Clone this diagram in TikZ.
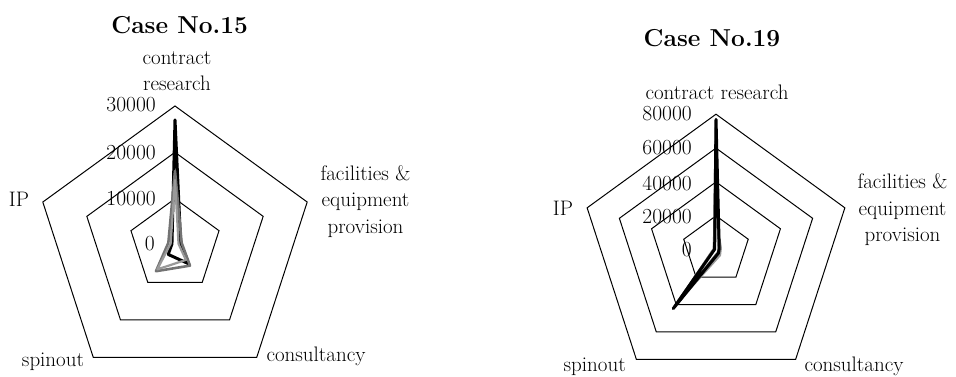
\documentclass[tikz,border=0pt]{standalone}
\begin{document}
\begin{tikzpicture}[x=1pt,y=1pt,
  ring/.style={draw=black, line width=1pt, line join=miter},
  serA/.style={draw=black, line width=3pt, line join=round},
  serB/.style={draw=black!55, line width=2.6pt, line join=round},
  serC/.style={draw=black!40, line width=2.2pt, line join=round},
  lab/.style={font=\fontsize{21}{26.5}\selectfont, inner sep=0pt, anchor=base, align=center},
  num/.style={font=\fontsize{21.5}{24}\selectfont, inner sep=0pt, anchor=base east},
  ttl/.style={font=\fontsize{24.5}{28}\selectfont\bfseries, inner sep=0pt, anchor=base}]
\path[use as bounding box] (0,0) rectangle (956,-377);

% ---------- Case No.15 ----------
\begin{scope}[shift={(175,-245)}]
  \foreach \r in {46.3,92.7,139}
    \draw[ring] (90:\r) -- (18:\r) -- (-54:\r) -- (-126:\r) -- (162:\r) -- cycle;
  \draw[serA] (90:125.1) -- (18:6) -- (-54:23.2) -- (-126:11.6) -- (162:3.2) -- cycle;
  \draw[serB] (90:74.1) -- (18:7) -- (-54:25.5) -- (-126:32.4) -- (162:7) -- cycle;
  \draw[serC] (90:64.9) -- (18:3.7) -- (-54:18.5) -- (-126:30.1) -- (162:4.6) -- cycle;
\end{scope}
% multi-line labels are anchored on the baseline of their last line
\node[ttl] (t15) at (179.7,-33.3) {Case No.15};
\node[lab] (cr15) at (177,-90.7) {contract\\research};
\node[lab] (fe15) at (365.5,-233.3) {facilities \&\\equipment\\provision};
\node[lab] (ip15) at (19,-206.7) {IP};
\node[lab] (sp15) at (53,-366.7) {spinout};
\node[lab] (co15) at (316,-361.7) {consultancy};
\node[num] (a30) at (156,-111.7) {30000};
\node[num] (a20) at (156,-159.3) {20000};
\node[num] (a10) at (156,-205) {10000};
\node[num] (a00) at (155,-250.7) {0};

% ---------- Case No.19 ----------
\begin{scope}[shift={(716,-249.7)}]
  \foreach \r in {33.9,67.75,101.6,135.5}
    \draw[ring] (90:\r) -- (18:\r) -- (-54:\r) -- (-126:\r) -- (162:\r) -- cycle;
  \draw[serC] (90:33.9) -- (18:5.1) -- (-54:6.8) -- (-126:64.4) -- (162:2.5) -- cycle;
  \draw[serB] (90:122) -- (18:3) -- (-54:3.4) -- (-126:69.5) -- (162:2) -- cycle;
  \draw[serA] (90:130.4) -- (18:3.4) -- (-54:4.2) -- (-126:72.8) -- (162:1.4) -- cycle;
\end{scope}
\node[ttl] (t19) at (712,-46.7) {Case No.19};
\node[lab] (cr19) at (717,-100) {contract research};
\node[lab] (fe19) at (902.5,-241.7) {facilities \&\\equipment\\provision};
\node[lab] (ip19) at (563,-215) {IP};
\node[lab] (sp19) at (594.7,-371.7) {spinout};
\node[lab] (co19) at (854,-371.7) {consultancy};
\node[num] (b80) at (692,-120.7) {80000};
\node[num] (b60) at (692,-155) {60000};
\node[num] (b40) at (692,-190) {40000};
\node[num] (b20) at (692,-223.3) {20000};
\node[num] (b00) at (692,-256.7) {0};
\end{tikzpicture}
\end{document}
